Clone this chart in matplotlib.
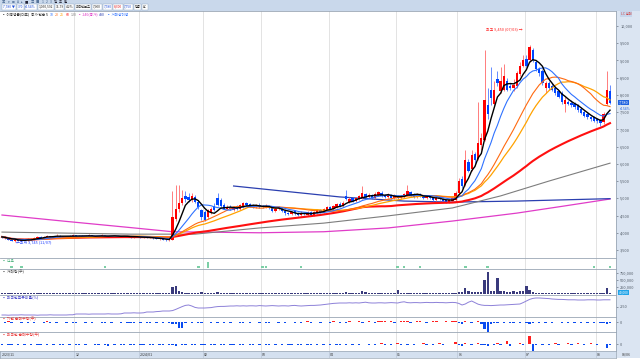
import numpy as np
import pandas as pd
import matplotlib
matplotlib.use("Agg")
import matplotlib.pyplot as plt
from matplotlib.patches import Rectangle

plt.rcParams['font.family'] = ['Noto Sans CJK KR', 'DejaVu Sans']
plt.rcParams['axes.linewidth'] = 0.5

# ---------------- data ----------------
month_idx = [0, 23, 43, 63, 81, 102, 123, 142, 163, 185]
month_labels = ["2023/11", "12", "2024/01", "02", "03", "04", "05", "06", "07", "08"]

opens = [3900,3880,3850,3800,3770,3790,3760,3800,3780,3820,
         3800,3850,3880,3860,3890,3910,3880,3900,3920,3890,
         3900,3880,3910,3930,3900,3920,3890,3910,3930,3900,
         3880,3900,3930,3910,3890,3900,3920,3900,3880,3900,
         3890,3870,3890,3880,3860,3870,3850,3860,3840,3820,
         3830,3800,3780,3800,4400,4700,4850,5080,5050,4950,
         5050,4900,4650,4600,4450,4600,4780,5000,4950,4800,
         4680,4760,4650,4780,4700,4750,4850,4830,4800,4760,
         4820,4780,4740,4790,4720,4640,4680,4720,4640,4580,
         4540,4620,4580,4520,4580,4530,4590,4530,4580,4660,
         4600,4660,4740,4680,4760,4840,4790,5080,4900,5000,
         4920,4980,5020,5120,5040,5100,5020,5100,5160,5100,
         5040,5100,5020,5080,5000,5050,5100,5180,5110,5050,
         5120,5060,5010,5070,5000,4960,5020,4970,4940,4880,
         4930,4950,5150,5550,5400,6050,5850,6300,6150,6550,
         6700,7700,8150,7750,8450,8100,8150,8400,8250,8200,
         8250,8600,8850,9050,9000,9300,8950,8750,8700,8200,
         8350,8250,8200,8100,8050,7750,7800,7780,7750,7700,
         7600,7500,7450,7350,7350,7300,7280,7200,7750,8100]
closes = [3880,3850,3800,3770,3790,3760,3800,3780,3820,3800,
          3850,3880,3860,3890,3910,3880,3900,3920,3890,3900,
          3880,3910,3930,3900,3920,3890,3910,3930,3900,3880,
          3900,3930,3910,3890,3900,3920,3900,3880,3900,3890,
          3870,3890,3880,3860,3870,3850,3860,3840,3820,3830,
          3800,3780,3790,4450,4700,4850,5000,4980,4960,5080,
          4900,4750,4450,4380,4650,4700,4650,4800,4780,4700,
          4760,4680,4750,4700,4800,4850,4800,4780,4760,4800,
          4760,4740,4790,4720,4640,4700,4740,4620,4560,4540,
          4600,4560,4520,4580,4540,4590,4530,4600,4660,4600,
          4680,4740,4680,4780,4830,4790,4870,4990,4980,4920,
          5000,5060,5150,5040,5100,5020,5130,5180,5080,5040,
          5100,5020,5080,5000,5060,5120,5200,5100,5050,5120,
          5060,5010,5070,5000,4960,5020,4970,4930,4900,4940,
          5000,5150,5500,5350,6100,5800,6250,6100,6600,6750,
          7850,7450,7900,8150,8350,8400,8550,8150,8200,8300,
          8650,8850,9000,8850,9400,9000,8750,8650,8350,8350,
          8200,8150,8050,7950,7800,7850,7750,7700,7650,7550,
          7480,7400,7350,7300,7250,7230,7180,7450,8150,7780]
highs = [3920,3900,3860,3820,3810,3800,3820,3830,3840,3840,
         3870,3900,3900,3910,3940,3920,3920,3950,3930,3920,
         3910,3930,3960,3940,3940,3930,3930,3950,3940,3910,
         3920,3950,3940,3920,3920,3940,3930,3910,3920,3910,
         3900,3910,3900,3890,3890,3880,3880,3870,3850,3850,
         3840,3810,3810,5200,5400,5380,5250,5200,5150,5150,
         5100,4950,4700,4650,4700,4750,4850,5150,5000,4850,
         4800,4800,4790,4820,4840,4900,4880,4860,4830,4840,
         4850,4810,4830,4820,4760,4740,4780,4760,4680,4610,
         4640,4650,4610,4620,4600,4630,4620,4640,4700,4700,
         4720,4780,4770,4820,4870,4880,4910,5250,5030,5040,
         5040,5100,5350,5160,5140,5130,5170,5220,5200,5130,
         5140,5130,5120,5110,5100,5160,5400,5220,5150,5160,
         5160,5100,5110,5100,5030,5060,5050,5000,4980,4980,
         5040,5200,5600,5650,6400,6150,6400,6350,7800,6900,
         9300,8200,8800,8400,8700,8800,8900,8500,8350,8450,
         8700,8950,9150,9150,9450,9350,9000,8800,8750,8400,
         8400,8350,8250,8150,8100,7950,7850,7850,7800,7750,
         7650,7550,7500,7400,7380,7330,7300,7500,8700,8300]
lows = [3860,3830,3790,3750,3745,3750,3750,3770,3770,3790,
        3790,3840,3850,3850,3880,3870,3870,3890,3880,3880,
        3870,3870,3900,3890,3890,3880,3880,3900,3890,3870,
        3870,3890,3900,3880,3880,3890,3890,3870,3870,3880,
        3860,3860,3870,3850,3850,3840,3840,3830,3810,3800,
        3790,3760,3770,3780,4350,4600,4800,4900,4900,4900,
        4850,4700,4380,4350,4400,4550,4620,4780,4750,4680,
        4650,4650,4620,4670,4670,4720,4770,4750,4730,4730,
        4730,4710,4710,4690,4610,4610,4650,4590,4530,4510,
        4510,4530,4490,4490,4510,4500,4500,4500,4550,4570,
        4570,4630,4650,4650,4730,4760,4760,4960,4870,4890,
        4890,4950,4990,5010,5010,4990,4990,5070,5050,5010,
        5010,4990,4990,4970,4970,5020,5070,5070,5020,5020,
        5030,4980,4980,4970,4930,4930,4940,4900,4870,4850,
        4900,4900,5100,5300,5350,5750,5800,6000,6100,6400,
        6650,7300,7700,7650,8250,8050,8100,8100,8150,8100,
        8200,8550,8800,8800,8950,8950,8700,8550,8300,8050,
        8150,8100,8000,7900,7750,7500,7700,7650,7600,7500,
        7450,7350,7300,7250,7200,7180,7100,7150,7700,7750]

# long averages (index, price)
ma120_idx = [0, 40, 60, 80, 100, 120, 140, 155, 170, 189]
ma120_val = [4020, 3960, 3960, 4140, 4280, 4490, 4720, 5070, 5500, 6020]
ma240_idx = [0, 20, 40, 53, 80, 100, 120, 140, 160, 175, 189]
ma240_val = [4515, 4330, 4150, 4030, 4000, 4030, 4140, 4340, 4570, 4780, 4980]
ma480_idx = [72, 105, 125, 140, 160, 189]
ma480_val = [5357, 5040, 4920, 4890, 4920, 4990]

volume_k = [35,28,40,45,38,30,26,30,24,22,
            28,32,25,22,30,26,20,24,22,18,
            20,25,30,22,18,20,24,26,22,20,
            18,22,26,20,18,22,20,18,24,22,
            20,18,22,24,20,26,22,25,30,28,
            32,40,35,260,300,110,70,50,45,40,
            35,40,60,45,35,30,30,55,35,30,
            28,25,30,26,28,32,26,24,22,25,
            22,20,24,26,22,28,25,24,30,26,
            22,24,20,22,25,20,22,24,28,25,
            26,30,25,28,32,30,35,70,40,30,
            35,40,110,60,35,30,32,38,30,28,
            26,30,28,130,50,35,45,30,28,26,
            25,28,24,22,26,24,22,25,28,30,
            35,40,80,60,200,90,60,60,80,60,
            500,790,110,100,570,100,90,70,60,90,
            70,90,100,280,140,60,50,45,40,38,
            35,32,30,35,30,40,28,26,25,24,
            30,26,22,25,28,24,22,35,220,40]

foreign_pct = [2.10,2.10,2.09,2.10,2.10,2.10,2.11,2.10,2.10,2.10,
               2.10,2.09,2.10,2.10,2.10,2.11,2.10,2.10,2.10,2.10,
               2.10,2.11,2.11,
               2.15,2.15,2.15,2.15,2.14,2.15,2.15,2.15,2.15,2.15,2.16,2.15,2.15,2.15,2.16,
               2.20,2.20,2.20,2.21,2.20,2.20,2.21,
               2.25,2.25,2.25,2.27,2.28,2.30,2.30,2.30,
               2.32,2.38,2.45,2.52,2.58,2.60,2.55,
               2.48,2.45,2.45,2.45,2.46,2.47,2.50,
               2.52,2.53,2.53,2.54,2.55,2.55,2.56,2.55,2.56,
               2.55,2.56,2.56,2.55,2.57,2.56,2.55,2.56,2.57,2.56,2.55,2.56,
               2.56,2.55,2.57,2.58,2.56,2.55,2.56,2.57,2.58,2.58,2.59,2.60,
               2.62,2.64,2.66,2.68,2.69,2.70,2.70,
               2.70,2.71,2.70,2.71,2.70,2.72,2.74,2.71,2.70,2.70,2.71,2.71,
               2.70,2.71,2.72,2.71,2.70,2.74,2.76,2.72,2.71,2.72,2.72,2.71,
               2.72,2.73,2.72,2.72,2.73,2.72,2.72,2.71,2.72,2.73,2.72,
               2.68,2.60,2.65,2.74,2.80,2.72,2.64,2.60,
               2.58,2.58,2.57,2.58,2.59,2.60,2.60,2.61,2.62,2.63,2.64,2.65,2.72,2.80,
               2.88,2.93,2.95,2.95,2.94,2.93,2.92,
               2.90,2.89,2.88,2.88,2.87,2.86,2.86,2.86,2.85,2.85,2.85,2.86,2.86,2.86,
               2.85,2.85,2.86,2.86,2.86]

inst_net = [1,-1,2,-1,1,1,-2,1,-1,1,
            -1,1,1,-1,2,-1,1,-1,1,1,
            -1,1,-1,-2,1,1,-1,1,-1,1,
            1,-1,-2,1,-1,1,1,-1,1,-1,
            -1,-2,1,-1,1,-1,-1,1,-1,1,
            -1,1,-1,-3,-4,-11,-12,-2,1,-1,
            1,-1,-2,1,1,-1,1,-2,1,-1,
            1,-1,1,1,-1,-1,1,-1,1,1,
            -1,1,-1,-1,1,1,-1,1,-1,1,
            1,-1,1,-1,1,2,-1,1,1,-1,
            1,1,-1,2,1,-1,1,-2,2,1,
            1,2,-1,1,2,1,-1,2,3,2,
            1,2,-1,1,3,2,2,-1,1,2,
            2,1,-1,1,2,3,1,1,2,1,
            2,3,-2,-4,2,1,-2,1,2,-3,
            -13,-19,-3,-2,-1,1,-2,1,-1,-1,
            1,-1,1,-1,-3,-1,1,-1,1,-1,
            1,-1,1,1,-1,1,-1,1,-1,1,
            -1,1,-2,1,-1,1,-1,-1,-4,-1]
foreign_net = [-1,1,-1,-2,1,-1,1,-1,1,-1,
               1,-1,-1,1,-2,1,-1,1,-1,-2,
               1,-1,1,-1,-2,1,-1,1,1,-1,
               -1,1,-1,-3,1,-1,1,-1,-1,1,
               -1,-1,1,-2,-1,1,-1,-1,1,-1,
               -1,1,-1,-2,-3,1,-1,-2,1,-1,
               -1,1,-1,-2,1,-1,-1,1,-1,-1,
               1,-1,-1,1,-2,-1,1,-1,-1,1,
               -1,1,-1,-1,1,-1,1,-1,1,-1,
               -1,1,-1,-1,1,-1,-1,1,-1,1,
               -1,1,-1,1,-1,-1,1,-1,1,-1,
               1,-1,1,1,-1,1,-1,1,2,-1,
               1,-1,1,2,-1,1,-1,1,-1,1,
               1,2,-1,1,-1,1,2,-1,1,1,
               1,5,-2,-4,2,1,-2,1,3,-1,
               -2,-4,1,-2,2,-1,1,6,-4,1,
               1,2,-1,1,16,-14,-1,1,-1,1,
               -1,1,2,-1,1,1,2,-1,1,2,
               1,-1,1,2,1,-1,1,1,-8,-1]

signal_days = [3, 6, 32, 61, 64, 81, 82, 93, 123, 125, 130, 144, 151, 184, 189]
signal_size = [2, 2, 2, 2, 6, 2, 2, 2, 2, 2, 2, 2, 2, 2, 2]

price_ticks = [3500, 4000, 4500, 5000, 5500, 6000, 6500, 7000, 7500, 8000, 8500, 9000, 9500, 10000]
ma_windows = [5, 10, 20, 25, 60]

# ---------------- figure ----------------
O = np.array(opens, float); C = np.array(closes, float)
Hh = np.array(highs, float); L = np.array(lows, float)
n = len(C)
for arr in (opens, highs, lows, volume_k, foreign_pct, inst_net, foreign_net):
    assert len(arr) == n, len(arr)
idx = np.arange(n)

W, H = 640, 360
fig = plt.figure(figsize=(6.4, 3.6), dpi=100)
fig.patch.set_facecolor('white')

def pax(x0, y0, x1, y1):
    return fig.add_axes([x0 / W, 1 - y1 / H, (x1 - x0) / W, (y1 - y0) / H])

XR = 616
XL = (-0.62, 190.86)
GRID = '#dedede'
SEP = '#9aa6b4'
FS = 2.8

# background bands
fig.patches.append(Rectangle((0, 1 - 11 / H), 1, 11 / H, transform=fig.transFigure,
                             facecolor='#c9d8eb', edgecolor='none', zorder=-2))
fig.patches.append(Rectangle((XR / W, 1 - 358 / H), (W - XR) / W, (358 - 11) / H,
                             transform=fig.transFigure, facecolor='#dbe5f2',
                             edgecolor='none', zorder=-1))

def style(ax, ticks=None, labels=None):
    ax.set_xlim(*XL)
    ax.set_xticks([])
    ax.spines['left'].set_visible(False)
    ax.spines['bottom'].set_visible(False)
    for s in ('top', 'right'):
        ax.spines[s].set_color(SEP)
        ax.spines[s].set_linewidth(0.6)
    ax.yaxis.tick_right()
    if ticks is None:
        ax.set_yticks([])
    else:
        ax.set_yticks(ticks)
        ax.set_yticklabels(labels)
    ax.tick_params(axis='y', length=1.6, width=0.4, pad=1.4, labelsize=FS,
                   colors='#505a66')
    for m in month_idx[1:]:
        ax.axvline(m - 0.5, color=GRID, lw=0.6, zorder=0)

# ---- main price panel ----
ax = pax(0, 11, XR, 258)
style(ax, price_ticks, [f"{v:,}" for v in price_ticks])
ax.set_ylim(3268, 10435)

s = pd.Series(C)
ma = {k: s.rolling(k, min_periods=1).mean() for k in ma_windows}

ax.plot(ma240_idx, ma240_val, color='#e03cc8', lw=0.9, zorder=2)
ax.plot(ma480_idx, ma480_val, color='#2b3fb0', lw=0.9, zorder=2)
ax.plot(ma120_idx, ma120_val, color='#7d7d7d', lw=0.8, zorder=2)

up = C >= O
ax.vlines(idx, L, Hh, colors=np.where(up, '#ff5a5a', '#3a6cff'), lw=0.55, zorder=3)
ax.bar(idx, np.maximum(np.abs(C - O), 14), bottom=np.minimum(O, C), width=0.72,
       color=np.where(up, '#ff0000', '#0046ff'), lw=0, zorder=3)

ax.plot(idx, ma[60], color='#ff1010', lw=1.5, zorder=4)
ax.plot(idx, ma[25], color='#ffa200', lw=0.9, zorder=4)
ax.plot(idx, ma[20], color='#ff6a10', lw=0.8, zorder=4)
ax.plot(idx, ma[10], color='#2f72ff', lw=0.8, zorder=4)
ax.plot(idx, ma[5], color='#000000', lw=1.0, zorder=5)

pk = int(np.argmax(Hh)); lo = int(np.argmin(L))
ax.annotate(f"최고 {int(Hh[pk]):,} (07/03) →", xy=(pk, Hh[pk]), xytext=(-5, 11.5),
            textcoords='offset points', ha='right', va='center', fontsize=FS, color='#ff2020')
ax.annotate(f"←최저 {int(L[lo]):,} (11/07)", xy=(lo, L[lo]), xytext=(1, -0.5),
            textcoords='offset points', ha='left', va='center', fontsize=FS, color='#2040ff')

last = C[-1]; chg = (C[-1] - C[-2]) / C[-2] * 100
ax.text(1.004, last, f"{int(last):,}", transform=ax.get_yaxis_transform(), fontsize=FS,
        color='white', va='center', ha='left',
        bbox=dict(facecolor='#1f62e0', edgecolor='none', pad=0.6))
ax.text(1.006, last - 130, f"{chg:.2f}%", transform=ax.get_yaxis_transform(), fontsize=2.4,
        color='#1f62e0', va='top', ha='left')

# ---- signal panel ----
ax1 = pax(0, 258, XR, 269)
style(ax1)
ax1.set_ylim(0, 11)
ax1.bar(signal_days, signal_size, bottom=1, width=0.8, color='#7ccfa6', lw=0)
ax1.text(0.004, 0.95, "▪ 신호", transform=ax1.transAxes, fontsize=FS, color='#39a86f', va='top')

# ---- volume panel ----
ax2 = pax(0, 269, XR, 295)
style(ax2, [250, 500, 750], ["250,000", "500,000", "750,000"])
ax2.set_ylim(-36, 893)
ax2.bar(idx, volume_k, width=0.72, color='#393a7c', lw=0)
ax2.text(0.004, 0.97, "▪ 거래량(주)", transform=ax2.transAxes, fontsize=FS, color='#444', va='top')
ax2.text(1.004, 60, f"{volume_k[-1] * 1000:,}", transform=ax2.get_yaxis_transform(),
         fontsize=2.4, color='white', va='center', ha='left',
         bbox=dict(facecolor='#21a4e8', edgecolor='none', pad=0.5))

# ---- foreign ownership ----
ax3 = pax(0, 295, XR, 317)
style(ax3, [2.5], ["2.50"])
ax3.set_ylim(2.0, 3.1)
ax3.plot(idx, foreign_pct, color='#8c80d8', lw=0.7)
ax3.text(0.004, 0.97, "▪ 외국인보유비율(%)", transform=ax3.transAxes, fontsize=FS,
         color='#3c3cc8', va='top')

# ---- institution net ----
ax4 = pax(0, 317, XR, 332)
style(ax4, [0], ["0"])
ax4.set_ylim(-20, 10)
v4 = np.array(inst_net)
ax4.bar(idx, v4, width=0.75, color=np.where(v4 > 0, '#ff2020', '#0a4cf0'), lw=0)
ax4.text(0.004, 0.97, "▪ 기관 순매수량(주)", transform=ax4.transAxes, fontsize=FS,
         color='#e83030', va='top')

# ---- foreign net ----
ax5 = pax(0, 332, XR, 351)
style(ax5, [0], ["0"])
ax5.set_ylim(-14, 24)
v5 = np.array(foreign_net)
ax5.bar(idx, v5, width=0.75, color=np.where(v5 > 0, '#ff2020', '#0a4cf0'), lw=0)
ax5.text(0.004, 0.97, "▪ 외국인 순매수량(주)", transform=ax5.transAxes, fontsize=FS,
         color='#e83030', va='top')

# ---- date band ----
ax6 = pax(0, 351, XR, 358)
ax6.set_xlim(*XL); ax6.set_ylim(0, 1)
ax6.set_facecolor('#d4e0ef')
ax6.set_xticks([]); ax6.set_yticks([])
for sp in ax6.spines.values():
    sp.set_color(SEP); sp.set_linewidth(0.5)
for m, lab in zip(month_idx, month_labels):
    if m > 0:
        ax6.axvline(m - 0.5, color='#b9c6d6', lw=0.5)
    ax6.text(m - 0.1, 0.45, lab, fontsize=2.5, color='#333', va='center', ha='left')
fig.text(622 / W, 1 - 354.5 / H, "08/06", fontsize=2.5, color='#333', va='center')

# ---- toolbar / legend text ----
r = fig.canvas.get_renderer()

def chain(x, y, parts, size=FS, gap=1.6, box=None):
    for txt, col in parts:
        kw = {}
        if box:
            kw['bbox'] = dict(facecolor='white', edgecolor='#8ea4c0', pad=0.5, lw=0.3)
        t = fig.text(x / W, 1 - y / H, txt, color=col, fontsize=size, va='center', ha='left', **kw)
        x += t.get_window_extent(renderer=r).width + gap
    return x

chain(2, 2.2, [("▣", '#40608a'), ("▾", '#40608a'), ("⊞", '#40608a'), ("A", '#40608a'),
               ("▸", '#40608a'), ("■", '#223'), ("▥", '#40608a'), ("▦", '#40608a'),
               ("1", '#40608a'), ("2", '#40608a'), ("3", '#40608a'), ("일", '#223'),
               ("주", '#223'), ("월", '#223')], size=2.4, gap=2.2)
chain(3, 6.8, [(f"{int(last):,} ▼", '#1f4fd8'), ("370", '#1f4fd8'), (f"{chg:.2f}%", '#1f4fd8'),
               ("1,050,592", '#222'), ("11.79", '#222'), ("4.2%", '#222'),
               ("외국인보유", '#222'), ("7,900", '#222'), (f"{int(last):,}", '#1f4fd8'),
               ("8,300", '#e02020'), ("7,750", '#1f4fd8'), ("업종", '#222'), ("AC", '#222')],
      size=2.4, gap=2.4, box=True)
chain(2, 14.5, [("▪ 이동평균(대표)", '#333'), ("종가 단순", '#333'), ("5", '#000'),
                ("10", '#2f72ff'), ("20", '#ff6a10'), ("25", '#ffa200'), ("60", '#ff1010'),
                ("120", '#7d7d7d'), ("▪ 240(종가)", '#e03cc8'), ("480", '#2b3fb0'),
                ("▪ 거래량이평", '#2f72ff')], size=2.6, gap=1.4)
fig.text(621 / W, 1 - 14 / H, "LC 범례", fontsize=2.4, color='#d04040', va='center',
         bbox=dict(facecolor='#c6d6ec', edgecolor='none', pad=0.4))

fig.savefig("out.png", dpi=100)
